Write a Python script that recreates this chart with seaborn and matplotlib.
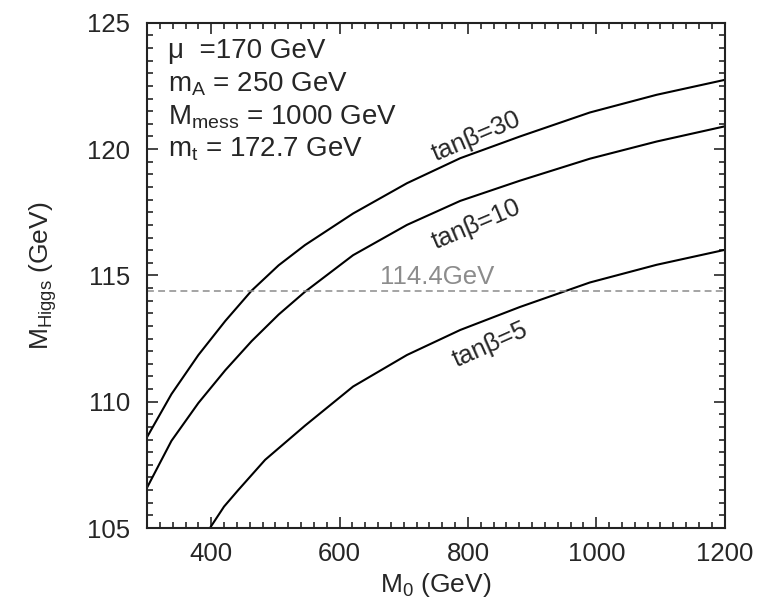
import matplotlib
matplotlib.use("Agg")
import matplotlib.pyplot as plt
from matplotlib.ticker import MultipleLocator
import seaborn as sns
import pandas as pd

# curves (M0 in GeV, M_Higgs in GeV)
m0_tb30 = [300, 338, 380, 422, 463, 505, 546, 621, 705, 788, 881, 990, 1094, 1200]
mh_tb30 = [108.6, 110.3, 111.85, 113.2, 114.4, 115.4, 116.2, 117.45, 118.65, 119.64,
           120.5, 121.45, 122.15, 122.74]

m0_tb10 = [300, 338, 380, 422, 463, 505, 546, 621, 705, 788, 881, 990, 1094, 1200]
mh_tb10 = [106.6, 108.45, 109.95, 111.25, 112.4, 113.45, 114.35, 115.8, 117.0, 117.95,
           118.75, 119.62, 120.3, 120.9]

m0_tb5 = [398, 420, 442, 484, 546, 621, 705, 788, 881, 990, 1094, 1200]
mh_tb5 = [105.0, 105.85, 106.5, 107.7, 109.05, 110.6, 111.85, 112.84, 113.75, 114.72,
          115.42, 116.01]

lep_bound = 114.4
curve_labels = ["tan\u03b2=30", "tan\u03b2=10", "tan\u03b2=5"]
params = ["\u03bc  =170 GeV",
          "m$_\\mathregular{A}$ = 250 GeV",
          "M$_\\mathregular{mess}$ = 1000 GeV",
          "m$_\\mathregular{t}$ = 172.7 GeV"]

sns.set_style("ticks")
plt.rcParams["font.family"] = ["Liberation Sans", "DejaVu Sans"]
plt.rcParams["mathtext.fontset"] = "custom"
plt.rcParams["mathtext.rm"] = "Liberation Sans"

fig = plt.figure(figsize=(7.62, 6.0), dpi=100)
ax = fig.add_axes([0.193, 0.12, 0.758, 0.842])

for xs, ys in [(m0_tb30, mh_tb30), (m0_tb10, mh_tb10), (m0_tb5, mh_tb5)]:
    df = pd.DataFrame({"M0": xs, "MH": ys})
    sns.lineplot(data=df, x="M0", y="MH", ax=ax, color="black", lw=1.5)

ax.axhline(lep_bound, color="#8c8c8c", lw=1.1, ls=(0, (4.5, 2.8)))
ax.text(663, 114.95, "114.4GeV", color="#8c8c8c", fontsize=18.5, va="center", ha="left")

ax.text(813, 120.5, curve_labels[0], fontsize=18.5, rotation=23, ha="center", va="center")
ax.text(813, 117.0, curve_labels[1], fontsize=18.5, rotation=23, ha="center", va="center")
ax.text(834, 112.25, curve_labels[2], fontsize=18.5, rotation=24, ha="center", va="center")

for i, p in enumerate(params):
    ax.text(333, 123.6 - 1.3 * i, p, fontsize=20, ha="left", va="baseline")

ax.set_xlim(300, 1200)
ax.set_ylim(105, 125)
ax.xaxis.set_major_locator(MultipleLocator(200))
ax.xaxis.set_minor_locator(MultipleLocator(20))
ax.yaxis.set_major_locator(MultipleLocator(5))
ax.yaxis.set_minor_locator(MultipleLocator(0.5))
ax.tick_params(which="both", direction="in", top=True, right=True, width=1.2, labelsize=18.5)
ax.tick_params(which="major", length=8)
ax.tick_params(which="minor", length=4)
ax.tick_params(axis="y", pad=12)
ax.tick_params(axis="x", pad=10)
for s in ax.spines.values():
    s.set_linewidth(1.5)
    s.set_color("#222222")

ax.set_xlabel("M$_\\mathregular{0}$ (GeV)", fontsize=19, labelpad=4)
ax.set_ylabel("M$_\\mathregular{Higgs}$ (GeV)", fontsize=19, labelpad=20)

fig.savefig("out.png", dpi=100)
